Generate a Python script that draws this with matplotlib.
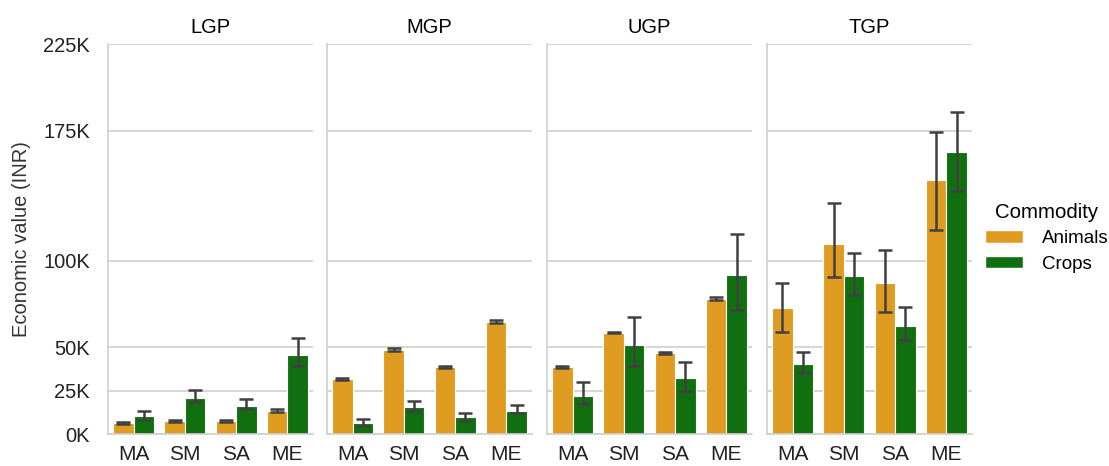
import numpy as np
import matplotlib.pyplot as plt
from matplotlib.patches import Patch

plt.rcParams['font.family'] = ['Liberation Sans', 'DejaVu Sans']

zones = ['LGP', 'MGP', 'UGP', 'TGP']
practices = ['MA', 'SM', 'SA', 'ME']

# mean economic value (INR) per zone and practice
animals = {
    'LGP': [6500, 7500, 7500, 13300],
    'MGP': [31700, 48600, 38500, 64800],
    'UGP': [38500, 58500, 46500, 78100],
    'TGP': [72500, 109500, 87300, 146600],
}
crops = {
    'LGP': [10400, 20600, 16200, 45600],
    'MGP': [6200, 15600, 9600, 13500],
    'UGP': [22100, 51500, 32500, 91700],
    'TGP': [40400, 91200, 62500, 162900],
}
# confidence interval bounds (low, high)
animals_ci = {
    'LGP': [(6000, 7000), (7000, 8000), (7000, 8000), (12500, 14200)],
    'MGP': [(31000, 32500), (48000, 49400), (38000, 39200), (64000, 65800)],
    'UGP': [(38000, 39200), (58000, 59100), (46000, 47200), (77500, 79000)],
    'TGP': [(59000, 87000), (90800, 133000), (70600, 106200), (117700, 174000)],
}
crops_ci = {
    'LGP': [(8000, 13500), (18300, 25400), (14200, 20200), (39400, 55200)],
    'MGP': [(4500, 8700), (13300, 19000), (7700, 12300), (12000, 16700)],
    'UGP': [(17300, 29800), (39200, 67300), (24800, 41400), (71500, 115200)],
    'TGP': [(35400, 47500), (80200, 104300), (54200, 73100), (140400, 186000)],
}

yticks = [0, 25000, 50000, 100000, 175000, 225000]
ytick_labels = ['0K', '25K', '50K', '100K', '175K', '225K']

colors = {'Animals': '#DF9C20', 'Crops': '#107010'}
grid_col = '#d0d0d0'
err_col = '#404040'

fig = plt.figure(figsize=(11.09, 4.66), dpi=100)
W, H = 1109, 466
lefts = [108, 327, 547, 767]
ax_w, ax_top, ax_bot = 205, 44, 434

x = np.arange(len(practices))
bw = 0.4
for i, zone in enumerate(zones):
    ax = fig.add_axes([lefts[i] / W, 1 - ax_bot / H, ax_w / W, (ax_bot - ax_top) / H])
    for series, vals, ci, off in [('Animals', animals[zone], animals_ci[zone], -bw / 2),
                                  ('Crops', crops[zone], crops_ci[zone], bw / 2)]:
        vals = np.array(vals)
        lo = np.array([c[0] for c in ci])
        hi = np.array([c[1] for c in ci])
        ax.bar(x + off, vals, width=bw, color=colors[series],
               edgecolor='white', linewidth=0.8, zorder=2)
        ax.errorbar(x + off, vals, yerr=[vals - lo, hi - vals], fmt='none',
                    ecolor=err_col, elinewidth=1.8, capsize=5, capthick=1.8, zorder=3)

    ax.set_xlim(-0.5, 3.5)
    ax.set_ylim(0, 225000)
    ax.set_yticks(yticks)
    ax.set_xticks(x)
    ax.set_xticklabels(practices, fontsize=15)
    ax.yaxis.grid(True, color=grid_col, linewidth=1.2, zorder=0)
    ax.set_axisbelow(True)
    for s in ['top', 'right']:
        ax.spines[s].set_visible(False)
    for s in ['left', 'bottom']:
        ax.spines[s].set_color(grid_col)
        ax.spines[s].set_linewidth(1.2)
    ax.tick_params(axis='both', length=0, colors='#222222')
    ax.tick_params(axis='x', pad=8)
    ax.tick_params(axis='y', pad=13)
    ax.set_title(zone, fontsize=14.5, pad=8)
    if i == 0:
        ax.set_yticklabels(ytick_labels, fontsize=14.5)
        ax.set_ylabel('Economic value (INR)', fontsize=14.5, color='#333333', labelpad=9)
    else:
        ax.set_yticklabels([])

handles = [Patch(facecolor=colors[k], edgecolor='white', label=k) for k in ['Animals', 'Crops']]
leg = fig.legend(handles=handles, title='Commodity', loc='center',
                 bbox_to_anchor=(0.944, 0.49), frameon=False, fontsize=13.5,
                 title_fontsize=14.7, handlelength=2.0, handleheight=0.65,
                 labelspacing=0.45, handletextpad=1.0)

fig.savefig('out.png', dpi=100)
